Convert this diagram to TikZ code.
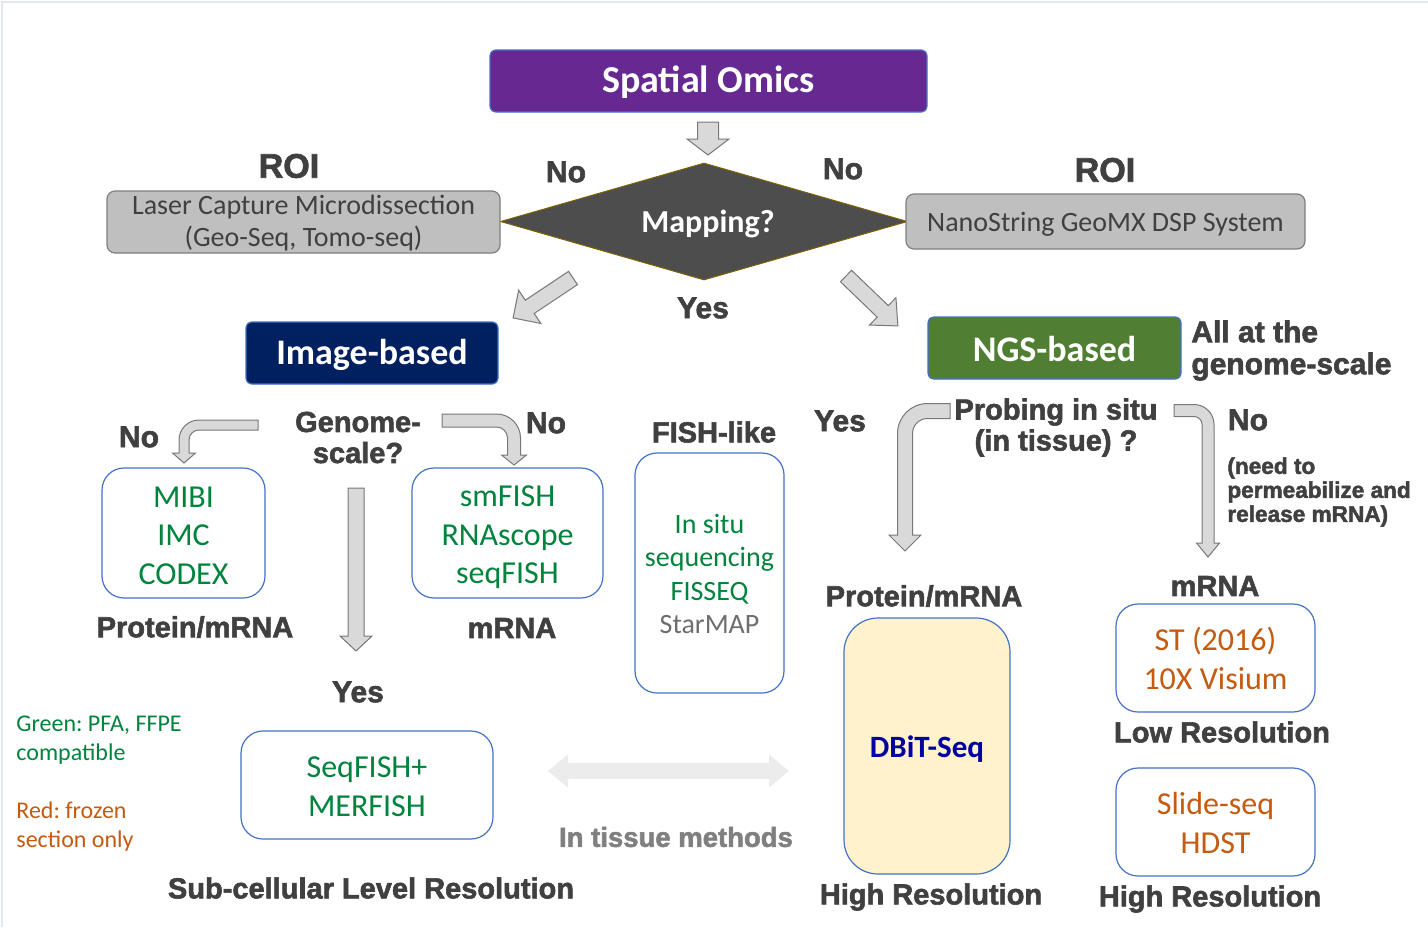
\documentclass[tikz,border=0pt]{standalone}
\usepackage{fontspec}
\setmainfont{Carlito}
\newfontfamily\labf{Liberation Sans}[BoldFeatures={FakeBold=2}]
\usetikzlibrary{shapes.geometric,arrows.meta}
\frenchspacing
\definecolor{omicsP}{RGB}{102,41,145}
\definecolor{navyB}{RGB}{0,32,96}
\definecolor{ngsG}{RGB}{80,126,50}
\definecolor{txtG}{RGB}{0,132,61}
\definecolor{txtO}{RGB}{197,90,17}
\definecolor{labG}{RGB}{64,64,64}
\definecolor{roiF}{RGB}{191,191,191}
\definecolor{roiD}{RGB}{127,127,127}
\definecolor{boxB}{RGB}{68,114,196}
\definecolor{arF}{RGB}{217,217,217}
\definecolor{arD}{RGB}{120,120,120}
\definecolor{diaF}{RGB}{77,77,77}
\definecolor{diaD}{RGB}{127,96,0}
\definecolor{dbitF}{RGB}{255,242,204}
\definecolor{dbitT}{RGB}{0,0,160}
\definecolor{lightA}{RGB}{236,236,236}
\definecolor{starG}{RGB}{110,110,110}
\definecolor{frameC}{RGB}{225,232,238}
\definecolor{tisG}{RGB}{128,128,128}
\newcommand\blockarr[6]{%
  \begin{scope}[shift={(#1)}, rotate=#2]
    \filldraw[blockarrow] (0,-#4) -- ({#3-#6},-#4) -- ({#3-#6},-#5) -- (#3,0)
      -- ({#3-#6},#5) -- ({#3-#6},#4) -- (0,#4) -- cycle;
  \end{scope}}
\newcommand\bentarr[9]{%
  \pgfmathsetmacro\yh{#4-#8}%
  \pgfmathsetmacro\Ri{max(#9-2*#6,0)}%
  \filldraw[blockarrow] (#1,{#2-#6}) -- ({#3-(#5)*#6+(#5)*#9},{#2-#6})
    .. controls ({#3-(#5)*#6+(#5)*0.448*#9},{#2-#6}) and ({#3-(#5)*#6},{#2-#6+0.448*#9}) .. ({#3-(#5)*#6},{#2-#6+#9})
    -- ({#3-(#5)*#6},\yh) -- ({#3-(#5)*#7},\yh) -- (#3,#4) -- ({#3+(#5)*#7},\yh) -- ({#3+(#5)*#6},\yh)
    -- ({#3+(#5)*#6},{#2+#6+\Ri})
    .. controls ({#3+(#5)*#6},{#2+#6+0.448*\Ri}) and ({#3+(#5)*#6+(#5)*0.448*\Ri},{#2+#6}) .. ({#3+(#5)*#6+(#5)*\Ri},{#2+#6})
    -- (#1,{#2+#6}) -- cycle;}
\begin{document}
\begin{tikzpicture}[x=0.5pt,y=-0.5pt,
  blockarrow/.style={fill=arF, draw=arD, line width=0.5pt, line join=miter},
  lab/.style={font=\labf\bfseries\fontsize{14.5}{15.5}\selectfont, text=labG, inner sep=0pt, align=center},
  labbig/.style={lab, font=\labf\bfseries\fontsize{15}{16}\selectfont},
  labroi/.style={lab, font=\labf\bfseries\fontsize{17}{18}\selectfont},
  hdr/.style={rounded corners=3pt, draw=boxB, line width=0.6pt, inner sep=0pt},
  hdrtxt/.style={text=white, inner sep=0pt, font=\bfseries\fontsize{18}{21}\selectfont},
  roibox/.style={rounded corners=4pt, fill=roiF, draw=roiD, line width=0.6pt, inner sep=0pt},
  roitxt/.style={text=labG, font=\fontsize{14}{16}\selectfont, align=center, inner sep=0pt},
  mbox/.style={rounded corners=11pt, draw=boxB, line width=0.6pt, fill=white, inner sep=0pt},
  mtxt/.style={align=center, inner sep=0pt, font=\fontsize{16}{19.25}\selectfont},
  legend/.style={anchor=west, align=left, inner sep=0pt, font=\fontsize{12}{14.5}\selectfont}]
\useasboundingbox (0,0) rectangle (1428,927);
\fill[white] (0,0) rectangle (1428,927);
\draw[frameC, line width=1pt] (2,927) -- (2,2) -- (1428,2);

% header and decision
\node[hdr, fill=omicsP, minimum width=218.5pt, minimum height=31pt] (omics) at (708.5,81) {};
\node[hdrtxt, font=\bfseries\fontsize{19}{22}\selectfont] (omicsT) at (708.5,82) {Spatial Omics};
\node[diamond, aspect=3.48, fill=diaF, draw=diaD, line width=0.5pt, minimum width=203.5pt,
  minimum height=58.5pt, inner sep=0pt] (map) at (704,221.5) {};
\node[hdrtxt, font=\bfseries\fontsize{16}{19}\selectfont] (mapT) at (708,223.5) {Mapping?};
\node[roibox, minimum width=196.5pt, minimum height=31pt] (lcm) at (303.5,222) {};
\node[roitxt] (lcmT) at (303.5,223) {Laser Capture Microdissection\\(Geo-Seq, Tomo-seq)};
\node[roibox, minimum width=199.5pt, minimum height=27.5pt] (geomx) at (1105.5,221.5) {};
\node[roitxt] (geomxT) at (1105.5,224.5) {NanoString GeoMX DSP System};
\node[labroi] (roiL) at (289,166) {ROI};
\node[labroi] (roiR) at (1105,170) {ROI};
\node[labbig] (noL) at (566,172) {No};
\node[labbig] (noR) at (843,169) {No};
\node[labbig] (yes1) at (703,308) {Yes};

% branches
\node[hdr, fill=navyB, minimum width=126pt, minimum height=31pt] (imgb) at (372,353) {};
\node[hdrtxt] (imgbT) at (372,355) {Image-based};
\node[hdr, fill=ngsG, minimum width=126.5pt, minimum height=31pt] (ngs) at (1054.5,348) {};
\node[hdrtxt] (ngsT) at (1054.5,349) {NGS-based};
\node[labbig, anchor=west, align=left] (allg) at (1191,350.5) {All at the\\genome-scale};

% block arrows
\coordinate (a0) at (708,122);
\coordinate (a1) at (573,278);
\coordinate (a2) at (846,276);
\coordinate (a3) at (356,488);
\blockarr{a0}{-90}{33}{10.5}{21}{16}
\blockarr{a1}{213.7}{72}{8}{20}{20}
\blockarr{a2}{-43.9}{72}{8}{19}{21}
\blockarr{a3}{-90}{163}{8}{16}{15}

% bent arrows
\bentarr{258}{425}{184}{463}{1}{5}{11.5}{10}{20}
\bentarr{442}{420.5}{514}{465}{-1}{6.5}{12.5}{10}{24}
\bentarr{950}{411}{905}{551}{1}{7.5}{16}{16}{30}
\bentarr{1174}{410.5}{1208}{557}{-1}{6}{11.5}{14}{20}

% image-based side
\node[lab] (gs) at (358,437.5) {Genome-\\scale?};
\node[labbig] (no2) at (139,437) {No};
\node[labbig] (no3) at (546,423) {No};
\node[mbox, minimum width=81.5pt, minimum height=65pt] (mibi) at (183.5,533) {};
\node[mtxt, text=txtG] (mibiT) at (183.5,535.5) {MIBI\\IMC\\CODEX};
\node[mbox, minimum width=95.5pt, minimum height=65pt] (smf) at (507.5,533) {};
\node[mtxt, text=txtG] (smfT) at (507.5,537.5) {smFISH\\RNAscope\\seqFISH};
\node[lab] (pm1) at (195,627) {Protein/mRNA};
\node[lab] (mr1) at (512,628) {mRNA};
\node[lab] (fl) at (714,432) {FISH-like};
\node[mbox, minimum width=74.5pt, minimum height=120pt] (fisl) at (709.5,573) {};
\node[mtxt, text=txtG, font=\fontsize{14}{16.7}\selectfont] (fislT) at (709.5,574)
  {In situ\\sequencing\\FISSEQ\\\textcolor{starG}{StarMAP}};
\node[labbig] (yes2) at (358,692) {Yes};
\node[mbox, minimum width=126pt, minimum height=54pt] (sqf) at (367,785) {};
\node[mtxt, text=txtG] (sqfT) at (367,786.5) {SeqFISH+\\MERFISH};
\node[lab] (subc) at (371,888) {Sub-cellular Level Resolution};
\node[legend, text=txtG] (leg1) at (16,740.5) {Green: PFA, FFPE\\compatible};
\node[legend, text=txtO] (leg2) at (16,826.5) {Red: frozen\\section only};

% in tissue methods
\coordinate (dl) at (548,771);
\coordinate (dr) at (789,771);
\draw[lightA, line width=8pt, {Triangle[length=10pt,width=16pt]}-{Triangle[length=10pt,width=16pt]}] (dl) -- (dr);
\node[lab, text=tisG, font=\labf\bfseries\fontsize{13.75}{15}\selectfont] (intis) at (676,837) {In tissue methods};

% NGS side
\node[labbig] (yes3) at (840,421) {Yes};
\node[lab] (prob) at (1056,427.5) {Probing in situ\\(in tissue) ?};
\node[labbig] (no4) at (1248,420) {No};
\node[lab, anchor=west, align=left, font=\labf\bfseries\fontsize{11.3}{12}\selectfont] (need) at (1227,492)
  {(need to\\permeabilize and\\release mRNA)};
\node[lab] (pm2) at (924,596) {Protein/mRNA};
\node[mbox, fill=dbitF, minimum width=83pt, minimum height=128pt, rounded corners=17pt] (dbit) at (927,746) {};
\node[mtxt, text=dbitT, font=\bfseries\fontsize{15.5}{18}\selectfont] (dbitT) at (927,749) {DBiT-Seq};
\node[lab] (hr1) at (931,897) {High Resolution};
\node[lab] (mr2) at (1215,586) {mRNA};
\node[mbox, minimum width=99.5pt, minimum height=54pt] (st) at (1215.5,658) {};
\node[mtxt, text=txtO] (stT) at (1215.5,658.5) {ST (2016)\\10X Visium};
\node[lab] (lr) at (1222,732) {Low Resolution};
\node[mbox, minimum width=99.5pt, minimum height=54pt] (slide) at (1215.5,822) {};
\node[mtxt, text=txtO] (slideT) at (1215.5,823) {Slide-seq\\HDST};
\node[lab] (hr2) at (1210,899) {High Resolution};
\end{tikzpicture}
\end{document}
